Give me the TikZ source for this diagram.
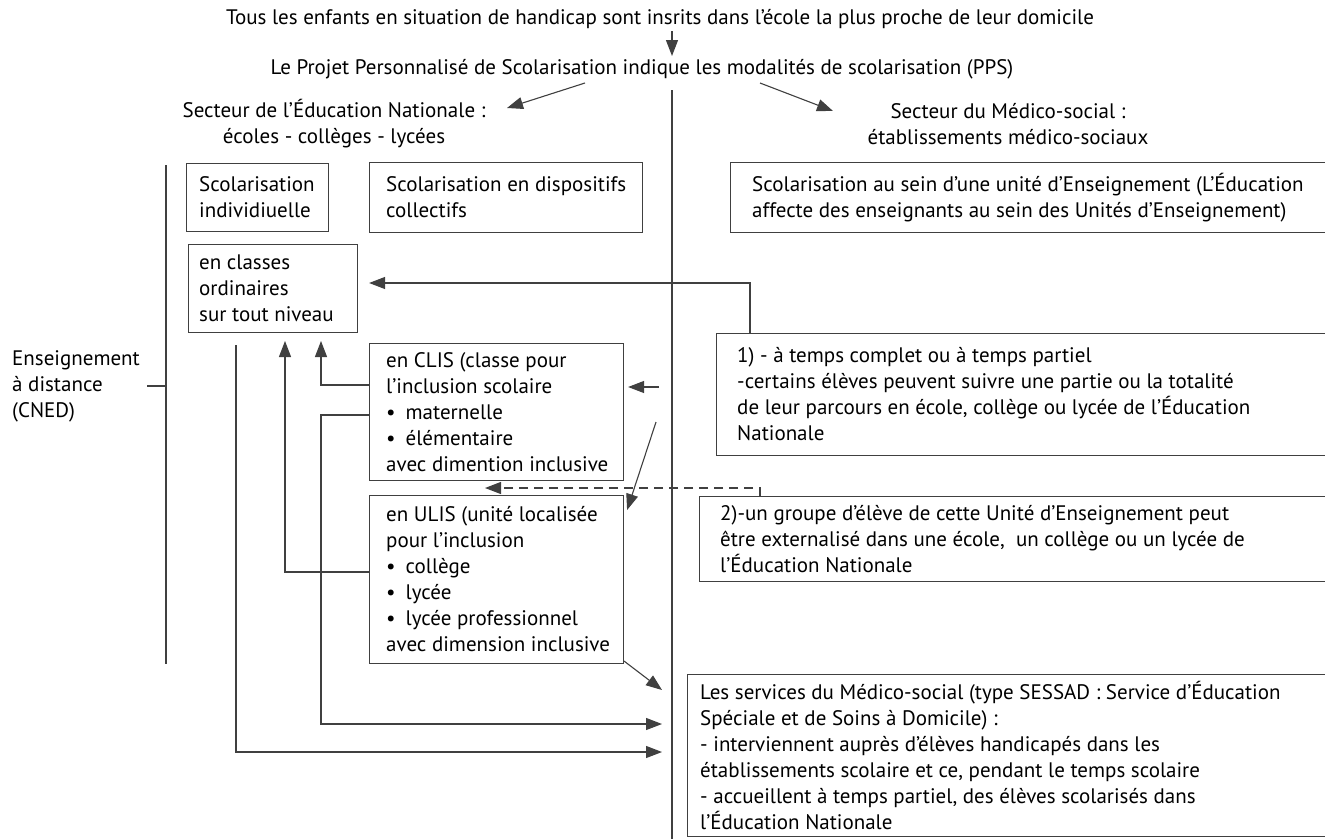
\documentclass[tikz,border=0pt]{standalone}
\usepackage{fontspec}
\setmainfont{PT Sans}
\usetikzlibrary{arrows.meta}
\begin{document}
\begin{tikzpicture}[x=1pt,y=-1pt,
  txt/.style={font=\fontsize{21}{26}\selectfont, text=black, inner sep=0pt, align=left},
  box/.style={draw=black!75, line width=1.1pt, anchor=north west, inner sep=0pt},
  ln/.style={draw=black!75, line width=1.1pt},
  tip/.style={-{Triangle[length=16pt,width=12pt]}},
  arr/.style={ln, tip},
  dsh/.style={ln, dash pattern=on 9pt off 6pt},
]
\clip (0,0) rectangle (1325,838);
\fill[white] (0,0) rectangle (1325,838);

% top texts
\node[txt] (T1) at (660,19) {Tous les enfants en situation de handicap sont insrits dans l’école la plus proche de leur domicile};
\node[txt] (T2) at (642,69) {Le Projet Personnalisé de Scolarisation indique les modalités de scolarisation (PPS)};
\node[txt, align=center] (SEN) at (334,124) {Secteur de l’Éducation Nationale :\\écoles - collèges - lycées};
\node[txt, align=center] (SMS) at (1008,124) {Secteur du Médico-social :\\établissements médico-sociaux};
\node[txt, anchor=west] (CNED) at (12,386) {Enseignement\\à distance\\(CNED)};

% boxes
\node[box, minimum width=142pt, minimum height=68pt] (A) at (186,163) {};
\node[txt, anchor=west] (Atx) at ([xshift=13pt]A.west) {Scolarisation\\individiuelle};
\node[box, minimum width=273pt, minimum height=70pt] (B) at (369,162) {};
\node[txt, anchor=west] (Btx) at ([xshift=17pt]B.west) {Scolarisation en dispositifs\\collectifs};
\node[box, minimum width=620pt, minimum height=70pt] (C) at (730,162) {};
\node[txt, anchor=west] (Ctx) at ([xshift=22pt]C.west) {Scolarisation au sein d’une unité d’Enseignement (L’Éducation\\affecte des enseignants au sein des Unités d’Enseignement)};
\node[box, minimum width=169pt, minimum height=88pt] (D) at (188,244) {};
\node[txt, anchor=west] (Dtx) at ([xshift=11pt]D.west) {en classes\\ordinaires\\sur tout niveau};
\node[box, minimum width=254pt, minimum height=137pt] (CLIS) at (369,343) {};
\node[txt, anchor=west] (CLIStx) at ([xshift=17pt]CLIS.west) {en CLIS (classe pour\\l’inclusion scolaire\\•\hspace{10pt}maternelle\\•\hspace{10pt}élémentaire\\avec dimention inclusive};
\node[box, minimum width=254pt, minimum height=168pt] (ULIS) at (369,495) {};
\node[txt, anchor=west] (ULIStx) at ([xshift=17pt]ULIS.west) {en ULIS (unité localisée\\pour l’inclusion\\•\hspace{10pt}collège\\•\hspace{10pt}lycée\\•\hspace{10pt}lycée professionnel\\avec dimension inclusive};
\node[box, minimum width=640pt, minimum height=122pt] (B1) at (716,333) {};
\node[txt, anchor=west] (B1tx) at ([xshift=21pt]B1.west) {1) - à temps complet ou à temps partiel\\-certains élèves peuvent suivre une partie ou la totalité\\de leur parcours en école, collège ou lycée de l’Éducation\\Nationale};
\node[box, minimum width=660pt, minimum height=85pt] (B2) at (699,496) {};
\node[txt, anchor=west] (B2tx) at ([xshift=21pt]B2.west) {2)-un groupe d’élève de cette Unité d’Enseignement peut\\être externalisé dans une école, \ un collège ou un lycée de\\l’Éducation Nationale};
\node[box, minimum width=670pt, minimum height=162pt] (SES) at (687,674) {};
\node[txt, anchor=west] (SEStx) at ([xshift=13pt]SES.west) {Les services du Médico-social (type SESSAD~: Service d’Éducation\\Spéciale et de Soins à Domicile) :\\- interviennent auprès d’élèves handicapés dans les\\établissements scolaire et ce, pendant le temps scolaire\\- accueillent à temps partiel, des élèves scolarisés dans\\l’Éducation Nationale};

% coordinates
\coordinate (t1) at (672,31);  \coordinate (t2) at (672,56);
\coordinate (l1) at (585,83);  \coordinate (l2) at (507,108);
\coordinate (r1) at (760,83);  \coordinate (r2) at (833,111);
\coordinate (v1) at (672,90);  \coordinate (v2) at (672,840);
\coordinate (g1) at (166,165); \coordinate (g2) at (166,664);
\coordinate (k1) at (147,386); \coordinate (k2) at (166,386);

% connectors
\draw[arr] (t1) -- (t2);
\draw[arr] (l1) -- (l2);
\draw[arr] (r1) -- (r2);
\draw[ln] (v1) -- (v2);
\draw[ln] (g1) -- (g2);
\draw[ln] (k1) -- (k2);

\draw[arr] (B1.north west -| 750,0) -- (750,283) -- ([xshift=11pt]D.east |- 0,283);
\draw[arr] (659,387) -- ([xshift=4pt]CLIS.east |- 0,387);
\draw[arr] (656,422) -- ([xshift=3pt]ULIS.north east |- 0,510);
\draw[dsh, tip] (B2.north west -| 760,0) -- (760,488) -- (485,488);
\draw[arr] ([yshift=3pt]ULIS.south east) -- (662,690);

\draw[arr] (CLIS.west |- 0,385) -- (321,385) -- (321,341);
\draw[arr] (ULIS.west |- 0,572) -- (285,572) -- (285,341);
\draw[arr] (CLIS.west |- 0,415) -- (321,415) -- (321,724) -- ([xshift=-25pt]SES.west |- 0,724);
\draw[arr] (236,345) -- (236,752) -- ([xshift=-25pt]SES.west |- 0,752);
\end{tikzpicture}
\end{document}
